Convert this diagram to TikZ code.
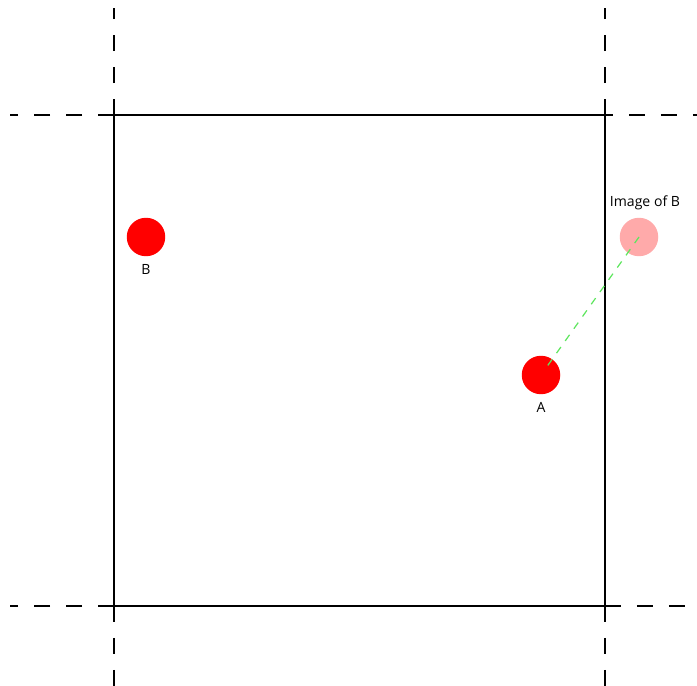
\documentclass[tikz,border=0pt]{standalone}
\usepackage{fontspec}
\setmainfont{Open Sans}
\usepackage{tikz}
\usetikzlibrary{positioning}
\definecolor{imagered}{RGB}{255,170,170}
\definecolor{linkgreen}{RGB}{95,230,95}

\begin{document}
\begin{tikzpicture}[
    x=0.02cm, y=-0.02cm,
    cell/.style={draw=black, line width=0.65pt},
    extline/.style={draw=black, line width=0.65pt, dash pattern=on 0.32cm off 0.32cm},
    particle/.style={circle, fill=red, minimum size=0.77cm, inner sep=0pt},
    ghost/.style={particle, fill=imagered},
    link/.style={draw=linkgreen, line width=0.7pt, dash pattern=on 0.15cm off 0.15cm},
    lbl/.style={font=\fontsize{8}{10}\selectfont, inner sep=0pt, anchor=base}
]
    \useasboundingbox (0,0) rectangle (697,686);
    % corners of the cell
    \coordinate (tl) at (114,115);
    \coordinate (tr) at (605,115);
    \coordinate (bl) at (114,606);
    \coordinate (br) at (605,606);
    % free ends of the extension lines
    \coordinate (tlup) at (114,8);
    \coordinate (tlleft) at (10,115);
    \coordinate (trup) at (605,8);
    \coordinate (trright) at (697,115);
    \coordinate (bldown) at (114,686);
    \coordinate (blleft) at (10,606);
    \coordinate (brdown) at (605,686);
    \coordinate (brright) at (697,606);
    \draw[cell] (tl) -- (tr) -- (br) -- (bl) -- cycle;
    \draw[extline] (tl) -- (tlup);
    \draw[extline] (tl) -- (tlleft);
    \draw[extline] (tr) -- (trup);
    \draw[extline, dash phase=0.16cm] (tr) -- (trright);
    \draw[extline] (bl) -- (bldown);
    \draw[extline] (bl) -- (blleft);
    \draw[extline] (br) -- (brdown);
    \draw[extline] (br) -- (brright);
    % particles
    \node[particle] (B) at (146,237) {};
    \node[particle] (A) at (541,375) {};
    \node[ghost] (imgB) at (639,237) {};
    \node[lbl] (labB) at (146,275) {B};
    \node[lbl] (labA) at (541,412) {A};
    \node[lbl] (labimgB) at (645,207) {Image of B};
    \draw[link, shorten >=0.19cm] (imgB.center) -- (A.center);
\end{tikzpicture}
\end{document}
